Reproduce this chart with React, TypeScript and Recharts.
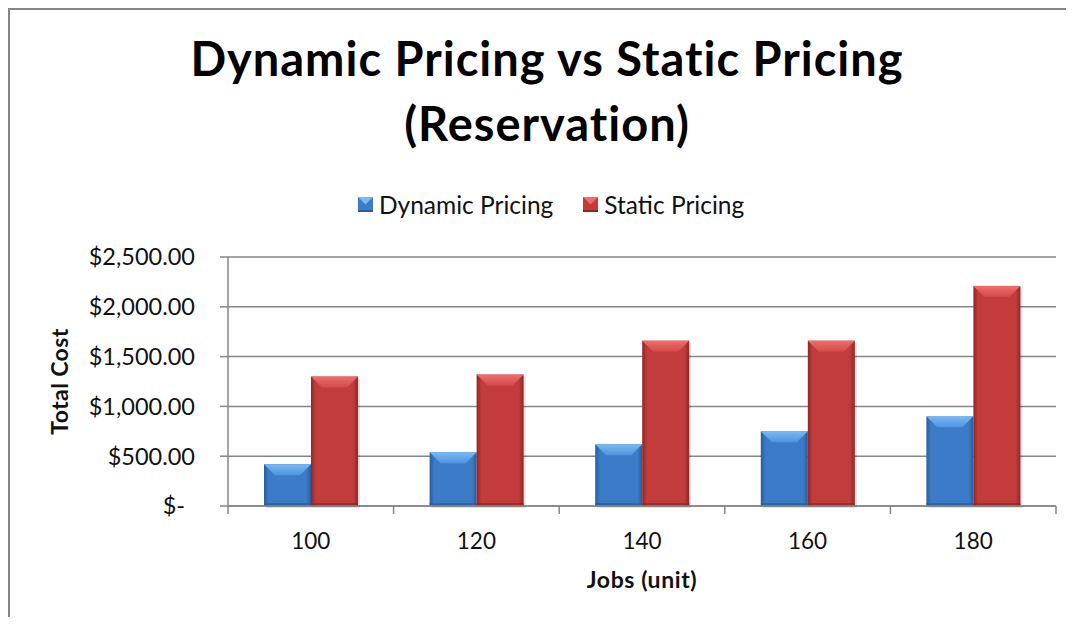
import React from 'react';
import { BarChart, Bar, XAxis, YAxis, CartesianGrid, Label } from 'recharts';

const jobs = ['100', '120', '140', '160', '180'];
const dynamicPricing = [420, 540, 620, 750, 900];
const staticPricing = [1300, 1320, 1660, 1660, 2210];
const yTicks = [0, 500, 1000, 1500, 2000, 2500];

const data = jobs.map((j, i) => ({ jobs: j, dynamic: dynamicPricing[i], static: staticPricing[i] }));

const FONT = 'Lato, "Noto Sans", sans-serif';
const AXIS = '#868686';

const TONES = {
  blue: { mid: '#3b7bc8', dark: '#2a5c9c', top1: '#79baf5', top2: '#4f93dd', id: 'b' },
  red: { mid: '#c13c3b', dark: '#8f2626', top1: '#ef6e6d', top2: '#d24a49', id: 'r' },
};

const BevelBar = (props: any) => {
  const { x, y, width, height, tone } = props;
  if (!height || height <= 0) return null;
  const t = TONES[tone as 'blue' | 'red'];
  const b = Math.min(11, height / 2, width / 2);
  return (
    <g>
      <rect x={x + 2} y={y + 2} width={width} height={height} fill="rgba(0,0,0,0.12)" />
      <rect x={x} y={y} width={width} height={height} fill={`url(#body-${t.id})`} />
      <polygon
        points={`${x},${y} ${x + width},${y} ${x + width - b},${y + b} ${x + b},${y + b}`}
        fill={`url(#top-${t.id})`}
      />
      <rect x={x} y={y + height - 3} width={width} height={3} fill={t.dark} opacity={0.7} />
    </g>
  );
};

const YTick = (props: any) => {
  const { x, y, payload } = props;
  const v = payload.value as number;
  const label = v === 0 ? '$-' : '$' + v.toLocaleString('en-US', { minimumFractionDigits: 2, maximumFractionDigits: 2 });
  return (
    <text x={v === 0 ? x - 10 : x} y={y} dy="0.36em" textAnchor="end" fontFamily={FONT} fontSize={23.5} fill="#111">
      {label}
    </text>
  );
};

const XTick = (props: any) => {
  const { x, y, payload, index } = props;
  const half = typeof payload.offset === 'number' && payload.offset > 0 ? payload.offset : 82.8;
  return (
    <g>
      <line x1={x - half} y1={y - 8} x2={x - half} y2={y} stroke={AXIS} strokeWidth={1.5} />
      {index === jobs.length - 1 && (
        <line x1={x + half} y1={y - 8} x2={x + half} y2={y} stroke={AXIS} strokeWidth={1.5} />
      )}
      <text x={x} y={y + 35} textAnchor="middle" fontFamily={FONT} fontSize={22.5} fill="#111">
        {payload.value}
      </text>
    </g>
  );
};

const LegendIcon = ({ tone }: { tone: 'blue' | 'red' }) => {
  const t = TONES[tone];
  return (
    <svg width={15} height={15} style={{ display: 'block' }}>
      <rect x={0} y={0} width={15} height={15} fill={t.mid} />
      <polygon points="0,0 15,0 7.5,7.5" fill={t.top1} />
      <rect x={0} y={13} width={15} height={2} fill={t.dark} />
    </svg>
  );
};

export default function App() {
  return (
    <div style={{ position: 'relative', width: 1066, height: 609, background: '#fff', fontFamily: FONT }}>
      <div style={{
        position: 'absolute', left: 0, top: 0, width: 1066, height: 609, boxSizing: 'border-box',
        borderLeft: `2px solid ${AXIS}`, borderTop: `2px solid ${AXIS}`
      }} />
      <div style={{
        position: 'absolute', left: 0, top: 18, width: 1078, textAlign: 'center',
        fontFamily: FONT, fontWeight: 700, fontSize: 47, letterSpacing: 1, lineHeight: '65px', color: '#000'
      }}>
        Dynamic Pricing vs Static Pricing<br />(Reservation)
      </div>
      <div style={{ position: 'absolute', left: 350, top: 182, display: 'flex', alignItems: 'center', fontSize: 24.5, color: '#111' }}>
        <LegendIcon tone="blue" />
        <span style={{ marginLeft: 6 }}>Dynamic Pricing</span>
        <span style={{ width: 30 }} />
        <LegendIcon tone="red" />
        <span style={{ marginLeft: 6 }}>Static Pricing</span>
      </div>
      <div style={{ position: 'absolute', left: 0, top: 0 }}>
        <BarChart
          width={1066}
          height={609}
          data={data}
          margin={{ top: 249, right: 18, bottom: 0, left: 0 }}
          barSize={47}
          barGap={0}
        >
          <defs>
            {(['blue', 'red'] as const).map((k) => {
              const t = TONES[k];
              return (
                <React.Fragment key={k}>
                  <linearGradient id={`body-${t.id}`} x1="0" y1="0" x2="1" y2="0">
                    <stop offset="0%" stopColor={t.dark} />
                    <stop offset="10%" stopColor={t.mid} />
                    <stop offset="90%" stopColor={t.mid} />
                    <stop offset="100%" stopColor={t.dark} />
                  </linearGradient>
                  <linearGradient id={`top-${t.id}`} x1="0" y1="0" x2="0" y2="1">
                    <stop offset="0%" stopColor={t.top1} />
                    <stop offset="100%" stopColor={t.top2} />
                  </linearGradient>
                </React.Fragment>
              );
            })}
          </defs>
          <CartesianGrid vertical={false} stroke={AXIS} strokeWidth={1.5} />
          <XAxis
            dataKey="jobs"
            height={111}
            axisLine={{ stroke: AXIS, strokeWidth: 1.5 }}
            tickLine={false}
            tick={<XTick />}
            interval={0}
          >
            <Label
              content={(p: any) => (
                <text x={p.viewBox.x + p.viewBox.width / 2} y={p.viewBox.y + 82} textAnchor="middle"
                  fontFamily={FONT} fontWeight={700} fontSize={23} letterSpacing={0.6} fill="#111">
                  Jobs (unit)
                </text>
              )}
            />
          </XAxis>
          <YAxis
            width={220}
            domain={[0, 2500]}
            ticks={yTicks}
            axisLine={{ stroke: AXIS, strokeWidth: 1.5 }}
            tickLine={{ stroke: AXIS, strokeWidth: 1.5 }}
            tickSize={8}
            tickMargin={25}
            tick={<YTick />}
          >
            <Label
              content={(p: any) => {
                const cx = p.viewBox.x + 52;
                const cy = p.viewBox.y + p.viewBox.height / 2;
                return (
                  <text x={cx} y={cy} transform={`rotate(-90 ${cx} ${cy})`} textAnchor="middle" dy="0.35em"
                    fontFamily={FONT} fontWeight={700} fontSize={23} letterSpacing={0.4} fill="#111">
                    Total Cost
                  </text>
                );
              }}
            />
          </YAxis>
          <Bar dataKey="dynamic" name="Dynamic Pricing" isAnimationActive={false}
            shape={(p: any) => <BevelBar {...p} tone="blue" />} />
          <Bar dataKey="static" name="Static Pricing" isAnimationActive={false}
            shape={(p: any) => <BevelBar {...p} tone="red" />} />
        </BarChart>
      </div>
    </div>
  );
}
